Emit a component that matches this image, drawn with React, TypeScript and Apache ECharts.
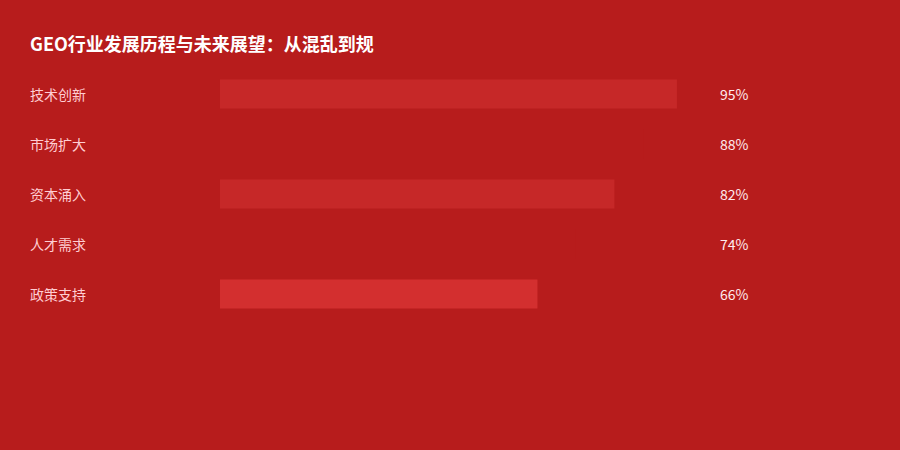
import React, { useEffect, useRef } from 'react';
import * as echarts from 'echarts';

const categories = ['技术创新', '市场扩大', '资本涌入', '人才需求', '政策支持'];
const values = [95, 88, 82, 74, 66];
const barColors = ['#C62828', '#B71C1C', '#C62828', '#B71C1C', '#D32F2F'];

const App: React.FC = () => {
  const chartRef = useRef<HTMLDivElement>(null);

  useEffect(() => {
    if (!chartRef.current) return;
    document.body.style.margin = '0';
    const chart = echarts.init(chartRef.current, undefined, { renderer: 'svg' });

    const font = '"Noto Sans CJK SC", "Microsoft YaHei", sans-serif';

    chart.setOption({
      animation: false,
      backgroundColor: '#B71C1C',
      title: {
        text: 'GEO行业发展历程与未来展望：从混乱到规',
        left: 25,
        top: 29,
        textStyle: { color: '#ffffff', fontSize: 18, fontWeight: 'bold', fontFamily: font }
      },
      grid: { left: 220, right: 199, top: 69, height: 250 },
      xAxis: {
        type: 'value',
        min: 0,
        max: 100,
        show: false
      },
      yAxis: [
        {
          type: 'category',
          data: categories,
          inverse: true,
          axisLine: { show: false },
          axisTick: { show: false },
          axisLabel: {
            align: 'left',
            margin: 190,
            color: '#FFCDD2',
            fontSize: 14,
            fontFamily: font,
            padding: [0, 0, 3, 0]
          }
        },
        {
          type: 'category',
          data: values.map(v => v + '%'),
          inverse: true,
          position: 'right',
          axisLine: { show: false },
          axisTick: { show: false },
          axisLabel: {
            align: 'left',
            margin: 19,
            color: '#FFEBEE',
            fontSize: 14,
            fontFamily: font,
            padding: [0, 0, 3, 0]
          }
        }
      ],
      series: [
        {
          type: 'bar',
          barWidth: 29,
          data: values.map((v, i) => ({ value: v, itemStyle: { color: barColors[i] } }))
        }
      ]
    });

    return () => {
      chart.dispose();
    };
  }, []);

  return <div ref={chartRef} style={{ width: '900px', height: '450px' }} />;
};

export default App;
